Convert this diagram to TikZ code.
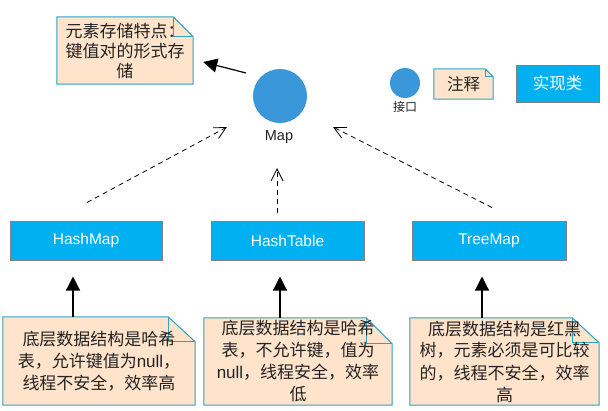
\documentclass[tikz,border=0pt]{standalone}
\usepackage{fontspec}
\setmainfont{Liberation Sans}
\newfontfamily\cjk{Noto Sans CJK SC}
\usetikzlibrary{arrows.meta,backgrounds}
\definecolor{notefill}{RGB}{255,228,203}
\definecolor{notedraw}{RGB}{45,163,196}
\definecolor{boxfill}{RGB}{0,176,240}
\definecolor{boxdraw}{RGB}{128,128,128}
\definecolor{ifacefill}{RGB}{58,151,217}
\definecolor{txt}{RGB}{34,34,34}
\tikzset{
  notebox/.style={rectangle, inner sep=0pt, align=center, text=txt, font=\cjk\fontsize{17}{22}\selectfont},
  implbox/.style={rectangle, fill=boxfill, draw=boxdraw, line width=1pt, text=white, inner sep=0pt, font=\fontsize{15.5}{18}\selectfont},
  iface/.style={circle, fill=ifacefill, inner sep=0pt},
  dasharrow/.style={draw=black, line width=0.8pt, dash pattern=on 5pt off 4pt, -{Straight Barb[length=12pt,width=12pt,line width=0.8pt]}},
  solidarrow/.style={draw=black, line width=1.2pt, -{Triangle[length=14pt,width=14pt]}},
}
\newcommand{\notefold}[3]{%
  \filldraw[fill=notefill, draw=notedraw, line width=1pt] (#1.north west) -- ([shift={(-#2,0)}]#1.north east) -- ([shift={(0,#3)}]#1.north east) -- (#1.south east) -- (#1.south west) -- cycle;
  \draw[draw=notedraw, line width=0.8pt] ([shift={(-#2,0)}]#1.north east) |- ([shift={(0,#3)}]#1.north east);
}
\begin{document}
\begin{tikzpicture}[x=1pt,y=-1pt]
\useasboundingbox (0,0) rectangle (608,410);

% Map interface and its note
\node[iface, minimum size=54pt] (map) at (280,96) {};
\node[text=txt, font=\fontsize{14.5}{17}\selectfont] (maplabel) at (279,137) {Map};
\node[notebox, font=\cjk\fontsize{17}{20}\selectfont, minimum width=136pt, minimum height=67pt] (note0) at (125,50.5) {元素存储特点：\\键值对的形式存\\储};

% legend
\node[iface, minimum size=30pt] (legiface) at (405,83) {};
\node[text=txt, font=\cjk\fontsize{12}{14}\selectfont] (legifacelabel) at (405,107) {接口};
\node[notebox, font=\cjk\fontsize{16.5}{20}\selectfont, minimum width=59pt, minimum height=30pt] (legnote) at (463.5,84) {注释};
\node[implbox, font=\cjk\fontsize{16.5}{20}\selectfont, minimum width=83pt, minimum height=37pt] (legimpl) at (557.5,83.5) {实现类};

% implementation classes
\node[implbox, minimum width=152pt, minimum height=39pt] (hashmap) at (86,240.5) {HashMap};
\node[implbox, minimum width=153pt, minimum height=39pt] (hashtable) at (287.5,240.5) {HashTable};
\node[implbox, minimum width=154pt, minimum height=39pt] (treemap) at (489,240.5) {TreeMap};

% notes
\node[notebox, minimum width=192pt, minimum height=88pt] (n1) at (99,361) {底层数据结构是哈希\\表，允许键值为{\normalfont null}，\\线程不安全，效率高};
\node[notebox, minimum width=188pt, minimum height=87pt] (n2) at (298,361.5) {底层数据结构是哈希\\表，不允许键，值为\\{\normalfont null}，线程安全，效率\\低};
\node[notebox, minimum width=189pt, minimum height=87pt] (n3) at (504.5,361.5) {底层数据结构是红黑\\树，元素必须是可比较\\的，线程不安全，效率\\高};

\begin{pgfonlayer}{background}
  \fill[white] (0,0) rectangle (608,410);
  \notefold{note0}{20}{20}
  \notefold{legnote}{8}{8}
  \notefold{n1}{27}{25}
  \notefold{n2}{26}{26}
  \notefold{n3}{27}{25}
\end{pgfonlayer}

% connectors
\draw[solidarrow] ([shift={(-34,-23)}]map.center) -- ([shift={(10,11.5)}]note0.east);
\draw[dasharrow] ([shift={(1,-18)}]hashmap.north) -- ([shift={(-53,31)}]map.center);
\draw[dasharrow] ([shift={(-10.5,-8)}]hashtable.north) -- ([shift={(-2,31)}]maplabel.center);
\draw[dasharrow] ([shift={(3,-13)}]treemap.north) -- ([shift={(53,31)}]map.center);
\draw[solidarrow] ([shift={(-26,0)}]n1.north) -- ([shift={(-13,16)}]hashmap.south);
\draw[solidarrow] ([shift={(-18,0)}]n2.north) -- ([shift={(-7.5,16)}]hashtable.south);
\draw[solidarrow] ([shift={(-22.5,0)}]n3.north) -- ([shift={(-7,16)}]treemap.south);
\end{tikzpicture}
\end{document}
